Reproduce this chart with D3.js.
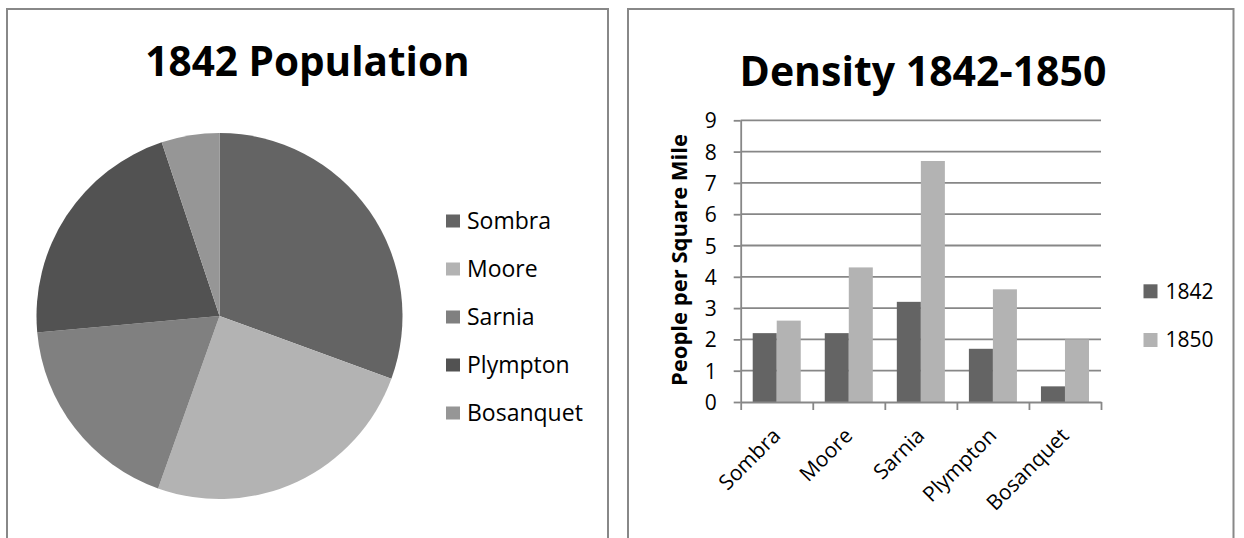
<!DOCTYPE html>
<html>
<head>
<meta charset="utf-8">
<script src="https://cdn.jsdelivr.net/npm/d3@7"></script>
<style>
  html, body { margin: 0; padding: 0; background: #fff; }
  svg { display: block; }
  text { font-family: "Open Sans", "Noto Sans", sans-serif; fill: #000; }
</style>
</head>
<body>
<svg id="chart" width="1244" height="538"></svg>
<script>
// Townships and their 1842 population (pie)
const towns = ["Sombra", "Moore", "Sarnia", "Plympton", "Bosanquet"];
const population1842 = [1100, 895, 652, 767, 184];
const townShades = ["#646464", "#b3b3b3", "#808080", "#525252", "#969696"];

// Density in people per square mile (clustered columns)
const years = ["1842", "1850"];
const density1842 = [2.2, 2.2, 3.2, 1.7, 0.5];
const density1850 = [2.6, 4.3, 7.7, 3.6, 2.0];
const yearShades = ["#646464", "#b3b3b3"];
const yTicks = [0, 1, 2, 3, 4, 5, 6, 7, 8, 9];

const svg = d3.select("#chart");
const frame = "#888888";

// Panel frames (they run past the bottom edge)
svg.append("path")
  .attr("d", "M7,545 V9 H608 V545")
  .attr("fill", "none").attr("stroke", frame).attr("stroke-width", 2);
svg.append("path")
  .attr("d", "M628,545 V9 H1233.5 V545")
  .attr("fill", "none").attr("stroke", frame).attr("stroke-width", 2);

// ---------- Pie: 1842 Population ----------
svg.append("text")
  .attr("x", 307.5).attr("y", 76)
  .attr("text-anchor", "middle")
  .attr("font-weight", "bold").attr("font-size", 40.5)
  .text("1842 Population");

const pieData = d3.pie().sort(null)(population1842);
const arc = d3.arc().innerRadius(0).outerRadius(183);
svg.append("g")
  .attr("transform", "translate(219.5,316)")
  .selectAll("path")
  .data(pieData)
  .join("path")
  .attr("d", arc)
  .attr("fill", (d, i) => townShades[i]);

const pieLegend = svg.append("g");
const pieRow = d3.scalePoint().domain(towns).range([221, 413]);
towns.forEach((t, i) => {
  const cy = pieRow(t);
  pieLegend.append("rect")
    .attr("x", 446).attr("y", cy - 6.5).attr("width", 14).attr("height", 13)
    .attr("fill", townShades[i]);
  pieLegend.append("text")
    .attr("x", 467).attr("y", cy + 8)
    .attr("font-size", 23)
    .text(t);
});

// ---------- Columns: Density 1842-1850 ----------
svg.append("text")
  .attr("x", 923).attr("y", 86)
  .attr("text-anchor", "middle")
  .attr("font-weight", "bold").attr("font-size", 41)
  .text("Density 1842-1850");

const plotLeft = 740.7, plotRight = 1101, plotTop = 120.3, plotBottom = 402;
const y = d3.scaleLinear().domain([0, 9]).range([plotBottom, plotTop]);
const x = d3.scaleBand().domain(towns).range([plotLeft, plotRight]).padding(0);
const xs = d3.scaleBand().domain(years).range([0, x.bandwidth()])
  .paddingInner(0).paddingOuter(0.5);
const gridGrey = "#878787";

// Horizontal gridlines
svg.append("g")
  .selectAll("line")
  .data(yTicks.filter(v => v > 0))
  .join("line")
  .attr("x1", plotLeft).attr("x2", plotRight)
  .attr("y1", d => y(d)).attr("y2", d => y(d))
  .attr("stroke", gridGrey).attr("stroke-width", 1.8);

// Bars
const series = [density1842, density1850];
const bars = svg.append("g");
years.forEach((yr, s) => {
  bars.selectAll(null)
    .data(towns.map((t, i) => ({ town: t, value: series[s][i] })))
    .join("rect")
    .attr("x", d => x(d.town) + xs(yr))
    .attr("width", xs.bandwidth())
    .attr("y", d => y(d.value))
    .attr("height", d => y(0) - y(d.value))
    .attr("fill", yearShades[s]);
});

// Y axis
const yAxis = svg.append("g")
  .attr("transform", `translate(${plotLeft},0)`)
  .call(d3.axisLeft(y).tickValues(yTicks).tickSize(7).tickSizeOuter(0).tickPadding(17));
yAxis.select(".domain").attr("stroke", gridGrey).attr("stroke-width", 1.8);
yAxis.selectAll(".tick line").attr("stroke", gridGrey).attr("stroke-width", 1.8);
yAxis.selectAll(".tick text")
  .attr("font-family", "Open Sans").attr("font-size", 21).attr("fill", "#000")
  .attr("dy", "0.36em");

// X axis: tick marks sit on category boundaries
const xEdges = d3.scaleLinear().domain([0, towns.length]).range([plotLeft, plotRight]);
const xAxis = svg.append("g")
  .attr("transform", `translate(0,${plotBottom})`)
  .call(d3.axisBottom(xEdges).tickValues(d3.range(towns.length + 1))
    .tickFormat("").tickSize(8).tickSizeOuter(0));
xAxis.select(".domain").attr("stroke", gridGrey).attr("stroke-width", 1.8);
xAxis.selectAll(".tick line").attr("stroke", gridGrey).attr("stroke-width", 1.8);

// Angled category labels
svg.append("g")
  .selectAll("text")
  .data(towns)
  .join("text")
  .attr("transform", d => `translate(${x(d) + x.bandwidth() / 2 + 5},437) rotate(-45)`)
  .attr("text-anchor", "end")
  .attr("font-size", 21)
  .text(d => d);

// Y axis title
svg.append("text")
  .attr("transform", "translate(686.7,260) rotate(-90)")
  .attr("text-anchor", "middle")
  .attr("font-weight", "bold").attr("font-size", 22)
  .text("People per Square Mile");

// Series legend
const barRow = d3.scalePoint().domain(years).range([291.3, 340]);
years.forEach((yr, i) => {
  const cy = barRow(yr);
  svg.append("rect")
    .attr("x", 1143.5).attr("y", cy - 7).attr("width", 14).attr("height", 14)
    .attr("fill", yearShades[i]);
  svg.append("text")
    .attr("x", 1165.5).attr("y", cy + 7.2)
    .attr("font-size", 21)
    .text(yr);
});
</script>
</body>
</html>
